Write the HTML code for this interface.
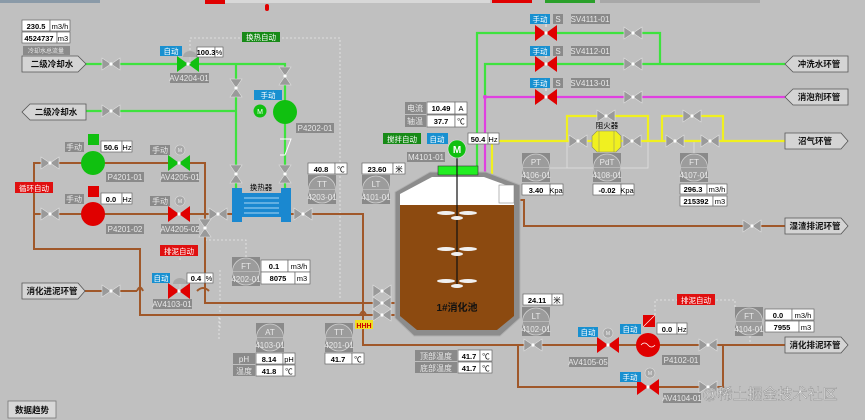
<!DOCTYPE html>
<html><head><meta charset="utf-8"><style>
html,body{margin:0;padding:0;background:#c0c0c0;}
svg{display:block;font-family:"Liberation Sans","Noto Sans CJK SC",sans-serif;}
.t{font-size:7.5px;fill:#000;}
.w{font-size:7.5px;fill:#fff;}
.l{font-size:8px;fill:#e8e8e8;}
</style></head><body>
<svg width="865" height="420" viewBox="0 0 865 420" xmlns="http://www.w3.org/2000/svg">
<defs>
<g id="vh"><polygon points="-9,-6 0,0 -9,6" fill="#9a9a9a" stroke="#e0e0e0" stroke-width="0.6"/><polygon points="9,-6 0,0 9,6" fill="#9a9a9a" stroke="#e0e0e0" stroke-width="0.6"/><circle r="1.6" fill="#fff"/></g>
<g id="vv"><polygon points="-6,-9 0,0 6,-9" fill="#9a9a9a" stroke="#e0e0e0" stroke-width="0.6"/><polygon points="-6,9 0,0 6,9" fill="#9a9a9a" stroke="#e0e0e0" stroke-width="0.6"/><circle r="1.6" fill="#fff"/></g>
<g id="rv"><polygon points="-11,-8 0,0 -11,8" fill="#e00000"/><polygon points="11,-8 0,0 11,8" fill="#e00000"/><circle r="1.6" fill="#fff"/></g>
<g id="gv"><polygon points="-11,-8 0,0 -11,8" fill="#10c010"/><polygon points="11,-8 0,0 11,8" fill="#10c010"/><circle r="1.6" fill="#fff"/></g>
<g id="inst"><rect x="0" y="0" width="28" height="29" fill="#8a8a8a"/><circle cx="14" cy="14.5" r="13.5" fill="#9c9c9c" stroke="#d0d0d0" stroke-width="0.8"/><line x1="1" y1="14.5" x2="27" y2="14.5" stroke="#d0d0d0" stroke-width="0.6"/></g>
</defs>

<!-- top strip -->
<rect x="0" y="0" width="100" height="3" fill="#8a9aa8"/>
<rect x="205" y="0" width="20" height="4" fill="#e00000"/>
<rect x="225" y="0" width="265" height="3" fill="#d8d8d8"/>
<rect x="265" y="4" width="4" height="7" fill="#e00000" rx="2"/>
<rect x="492" y="0" width="40" height="3" fill="#e00000"/>
<rect x="545" y="0" width="50" height="3" fill="#2aa02a"/>
<rect x="600" y="0" width="160" height="3" fill="#a8a8a8"/>

<!-- dashed lines -->
<g stroke="#e8e8e8" stroke-width="0.8" stroke-dasharray="2,2" fill="none">
<polyline points="190,50 190,38 340,38 340,300"/>
<polyline points="180,260 180,250"/>
<polyline points="205,240 246,240 246,258"/>
<polyline points="219,317 219,340"/>
<polyline points="220,270 220,330"/>
<polyline points="655,315 655,300 735,300 735,307"/>
<polyline points="750,336 750,345"/>
</g>
<rect x="567" y="116" width="81" height="52" fill="none" stroke="#e0e0e0" stroke-width="0.8"/>
<line x1="536" y1="168" x2="567" y2="168" stroke="#e0e0e0" stroke-width="0.8"/>
<line x1="694" y1="141" x2="694" y2="153" stroke="#e0e0e0" stroke-width="0.8"/>

<!-- green pipes -->
<g stroke="#3ee23e" stroke-width="2.2" fill="none">
<polyline points="85,64 285,64 285,190"/>
<polyline points="236,64 236,190"/>
<polyline points="86,111 236,111"/>
<polyline points="477,172 477,33 660,33 660,64"/>
<polyline points="485,97 485,64 785,64"/>
</g>
<g stroke="#e040e0" stroke-width="2.2" fill="none">
<polyline points="485,172 485,97 785,97"/>
</g>
<circle cx="485" cy="97" r="2" fill="#e040e0"/>
<g stroke="#f0f020" stroke-width="2.2" fill="none">
<polyline points="492,178 492,141 785,141"/>
<polyline points="567,141 567,116 648,116 648,141"/>
<polyline points="662,141 662,116 723,116 723,141"/>
</g>

<!-- brown pipes -->
<g stroke="#a0582a" stroke-width="2" fill="none">
<polyline points="34,250 34,163 205,163 205,214"/>
<polyline points="34,214 232,214"/>
<polyline points="34,214 34,249 140,249 140,315 396,315"/>
<polyline points="291,214 363,214 363,345 518,345 785,345"/>
<polyline points="518,345 518,387 723,387 723,345"/>
<polyline points="205,214 205,303 396,303"/>
<polyline points="85,291 137,291 M143,291 197,291 M209,291 396,291"/>
<path d="M137,291 q3,-7 6,0 M197,291 q6,-6 12,0 M360,315 q3,-7 6,0"/>
<polyline points="520,200 524,200 524,226 785,226"/>
</g>

<!-- tank -->
<polygon points="395,192 430,172 486,172 520,185 520,318 500,336 414,336 395,318" fill="#8c8c8c" stroke="#b0b0b0"/>
<polygon points="400,194 432,177 484,177 514,188 514,205 400,205" fill="#fff"/>
<polygon points="400,205 514,205 514,316 497,330 417,330 400,316" fill="#8c4a10"/>
<rect x="499" y="185" width="15" height="18" fill="#fff" stroke="#888" stroke-width="0.6"/>
<rect x="438" y="166" width="40" height="9" fill="#22ee22" stroke="#333" stroke-width="0.6"/>
<line x1="457" y1="150" x2="457" y2="285" stroke="#111" stroke-width="1.2"/>
<g fill="#f0f0f0">
<ellipse cx="446" cy="213" rx="9" ry="2"/><ellipse cx="468" cy="213" rx="9" ry="2"/><ellipse cx="457" cy="218" rx="6" ry="2"/>
<ellipse cx="446" cy="249" rx="9" ry="2"/><ellipse cx="468" cy="249" rx="9" ry="2"/><ellipse cx="457" cy="254" rx="6" ry="2"/>
<ellipse cx="446" cy="281" rx="9" ry="2"/><ellipse cx="468" cy="281" rx="9" ry="2"/><ellipse cx="457" cy="286" rx="6" ry="2"/>
</g>
<text x="457" y="311" text-anchor="middle" font-size="10" font-weight="bold" fill="#111">1#消化池</text>
<circle cx="457" cy="149" r="9" fill="#10c010" stroke="#e0e0e0" stroke-width="0.6"/>
<text x="457" y="153" text-anchor="middle" font-size="10" font-weight="bold" fill="#fff">M</text>

<!-- heat exchanger -->
<rect x="232" y="188" width="10" height="34" fill="#1a88d0"/>
<rect x="281" y="188" width="10" height="34" fill="#1a88d0"/>
<rect x="242" y="193" width="39" height="24" fill="#1a88d0"/>
<g stroke="#d8f0ff" stroke-width="0.8"><line x1="244" y1="198" x2="279" y2="198"/><line x1="244" y1="203" x2="279" y2="203"/><line x1="244" y1="208" x2="279" y2="208"/><line x1="244" y1="213" x2="279" y2="213"/></g>
<text x="261" y="190" text-anchor="middle" class="t">换热器</text>

<!-- valves gray -->
<use href="#vh" x="111" y="64"/><use href="#vh" x="111" y="111"/>
<use href="#vv" x="236" y="88"/><use href="#vv" x="285" y="76"/>
<use href="#vv" x="236" y="174"/><use href="#vv" x="285" y="174"/>
<use href="#vh" x="50" y="163"/><use href="#vh" x="50" y="214"/>
<use href="#vh" x="218" y="214"/><use href="#vh" x="303" y="214"/>
<use href="#vv" x="205" y="228"/><use href="#vh" x="111" y="291"/>
<use href="#vh" x="382" y="291"/><use href="#vh" x="382" y="303"/><use href="#vh" x="382" y="315"/>
<use href="#vh" x="633" y="33"/><use href="#vh" x="633" y="64"/><use href="#vh" x="633" y="97"/>
<use href="#vh" x="606" y="116"/><use href="#vh" x="578" y="141"/><use href="#vh" x="632" y="141"/>
<use href="#vh" x="692" y="116"/><use href="#vh" x="675" y="141"/><use href="#vh" x="710" y="141"/>
<use href="#vh" x="752" y="226"/><use href="#vh" x="533" y="345"/><use href="#vh" x="708" y="345"/><use href="#vh" x="708" y="387"/>
<!-- check valve -->
<polyline points="280,139 291,139 285,155 280,155" fill="none" stroke="#fff" stroke-width="1"/>

<!-- colored valves -->
<use href="#gv" x="188" y="64"/><use href="#gv" x="179" y="163"/>
<use href="#rv" x="179" y="214"/><use href="#rv" x="179" y="291"/>
<use href="#rv" x="546" y="33"/><use href="#rv" x="546" y="64"/><use href="#rv" x="546" y="97"/>
<use href="#rv" x="608" y="345"/><use href="#rv" x="648" y="387"/>
<!-- actuator hats -->
<path d="M183,57 a7,6 0 0 1 14,0 z" fill="#a8a8a8"/><line x1="190" y1="57" x2="190" y2="64" stroke="#ccc"/>
<path d="M173,284 a7,6 0 0 1 14,0 z" fill="#a8a8a8"/><line x1="180" y1="284" x2="180" y2="291" stroke="#ccc"/>
<g fill="#a8a8a8" stroke="#ddd" stroke-width="0.6"><circle cx="180" cy="150" r="5"/><circle cx="180" cy="201" r="5"/><circle cx="608" cy="333" r="5"/><circle cx="650" cy="373" r="5"/></g>
<g font-size="5" fill="#eee" text-anchor="middle"><text x="180" y="152">M</text><text x="180" y="203">M</text><text x="608" y="335">M</text><text x="650" y="375">M</text></g>
<g fill="#d8d8d8"><rect x="545" y="23" width="2" height="4"/><rect x="545" y="54" width="2" height="4"/><rect x="545" y="87" width="2" height="4"/></g>

<!-- pumps -->
<circle cx="93" cy="163" r="12" fill="#10c010"/><rect x="88" y="134" width="11" height="11" fill="#10c010"/>
<circle cx="93" cy="214" r="12" fill="#e00000"/><rect x="88" y="186" width="11" height="11" fill="#e00000"/>
<circle cx="285" cy="112" r="12" fill="#10c010"/>
<circle cx="260" cy="111" r="6.5" fill="#10c010"/><text x="260" y="114" font-size="7" text-anchor="middle" fill="#fff">M</text>
<circle cx="648" cy="345" r="12" fill="#e00000"/><path d="M641,345 q3.5,-4 7,0 t7,0" stroke="#fff" fill="none" stroke-width="0.8"/>
<rect x="643" y="315" width="12" height="12" fill="#e00000"/><line x1="643" y1="327" x2="655" y2="315" stroke="#fff" stroke-width="0.6"/>
<!-- flame arrester -->
<polygon points="597,131 616,131 621,136 621,147 616,152 597,152 592,147 592,136" fill="#f0f020" stroke="#886" stroke-width="0.6"/>
<line x1="599" y1="131" x2="599" y2="152" stroke="#886" stroke-width="0.5"/><line x1="614" y1="131" x2="614" y2="152" stroke="#886" stroke-width="0.5"/>
<text x="607" y="128" text-anchor="middle" class="t">阻火器</text>

<!-- instruments -->
<use href="#inst" x="308" y="175"/><use href="#inst" x="362" y="175"/>
<use href="#inst" x="232" y="257"/><use href="#inst" x="256" y="323"/><use href="#inst" x="325" y="323"/>
<use href="#inst" x="522" y="153"/><use href="#inst" x="593" y="153"/><use href="#inst" x="680" y="153"/>
<use href="#inst" x="522" y="307"/><use href="#inst" x="735" y="307"/>
<g class="l" text-anchor="middle">
<text x="322" y="187">TT</text><text x="322" y="200">4203-01</text>
<text x="376" y="187">LT</text><text x="376" y="200">4101-01</text>
<text x="246" y="269">FT</text><text x="246" y="282">4202-01</text>
<text x="270" y="335">AT</text><text x="270" y="348">4103-01</text>
<text x="339" y="335">TT</text><text x="339" y="348">4201-01</text>
<text x="536" y="165">PT</text><text x="536" y="178">4106-01</text>
<text x="607" y="165">PdT</text><text x="607" y="178">4108-01</text>
<text x="694" y="165">FT</text><text x="694" y="178">4107-01</text>
<text x="536" y="319">LT</text><text x="536" y="332">4102-01</text>
<text x="749" y="319">FT</text><text x="749" y="332">4104-01</text>
</g>

<!-- value boxes -->
<g fill="#fff" stroke="#666" stroke-width="0.7">
<rect x="22" y="20" width="28" height="11"/><rect x="50" y="20" width="20" height="11"/>
<rect x="22" y="32" width="35" height="11"/><rect x="57" y="32" width="13" height="11"/>
<rect x="197" y="47" width="18" height="10"/><rect x="215" y="47" width="8" height="10"/>
<rect x="101" y="141" width="21" height="11"/><rect x="122" y="141" width="10" height="11"/>
<rect x="101" y="193" width="21" height="11"/><rect x="122" y="193" width="10" height="11"/>
<rect x="187" y="273" width="18" height="10"/><rect x="205" y="273" width="8" height="10"/>
<rect x="261" y="260" width="27" height="12"/><rect x="288" y="260" width="22" height="12"/>
<rect x="261" y="272" width="34" height="12"/><rect x="295" y="272" width="15" height="12"/>
<rect x="308" y="163" width="27" height="11"/><rect x="335" y="163" width="12" height="11"/>
<rect x="362" y="163" width="31" height="11"/><rect x="393" y="163" width="12" height="11"/>
<rect x="256" y="353" width="27" height="11"/><rect x="283" y="353" width="12" height="11"/>
<rect x="256" y="365" width="27" height="11"/><rect x="283" y="365" width="12" height="11"/>
<rect x="325" y="353" width="27" height="11"/><rect x="352" y="353" width="12" height="11"/>
<rect x="427" y="102" width="28" height="12"/><rect x="455" y="102" width="12" height="12"/>
<rect x="427" y="115" width="28" height="12"/><rect x="455" y="115" width="12" height="12"/>
<rect x="468" y="133" width="20" height="11"/><rect x="488" y="133" width="11" height="11"/>
<rect x="458" y="350" width="22" height="11"/><rect x="480" y="350" width="12" height="11"/>
<rect x="458" y="362" width="22" height="11"/><rect x="480" y="362" width="12" height="11"/>
<rect x="522" y="184" width="28" height="11"/><rect x="550" y="184" width="13" height="11"/>
<rect x="593" y="184" width="28" height="11"/><rect x="621" y="184" width="13" height="11"/>
<rect x="680" y="184" width="27" height="10"/><rect x="707" y="184" width="20" height="10"/>
<rect x="680" y="196" width="33" height="10"/><rect x="713" y="196" width="14" height="10"/>
<rect x="523" y="294" width="29" height="11"/><rect x="552" y="294" width="11" height="11"/>
<rect x="657" y="323" width="20" height="11"/><rect x="677" y="323" width="10" height="11"/>
<rect x="765" y="309" width="27" height="11"/><rect x="792" y="309" width="22" height="11"/>
<rect x="765" y="321" width="34" height="11"/><rect x="799" y="321" width="15" height="11"/>
</g>
<g class="t" font-weight="bold" text-anchor="middle">
<text x="36" y="29">230.5</text><text x="39" y="41">4524737</text><text x="206" y="55">100.3</text>
<text x="111" y="150">50.6</text><text x="111" y="202">0.0</text><text x="196" y="281">0.4</text>
<text x="274" y="269">0.1</text><text x="278" y="281">8075</text>
<text x="321" y="172">40.8</text><text x="377" y="172">23.60</text>
<text x="269" y="362">8.14</text><text x="269" y="374">41.8</text><text x="338" y="362">41.7</text>
<text x="441" y="111">10.49</text><text x="441" y="124">37.7</text><text x="478" y="142">50.4</text>
<text x="469" y="359">41.7</text><text x="469" y="371">41.7</text>
<text x="536" y="193">3.40</text><text x="607" y="193">-0.02</text>
<text x="693" y="192">296.3</text><text x="696" y="204">215392</text>
<text x="537" y="303">24.11</text><text x="667" y="332">0.0</text>
<text x="778" y="318">0.0</text><text x="782" y="330">7955</text>
</g>
<g class="t" text-anchor="middle">
<text x="60" y="29">m3/h</text><text x="63" y="41">m3</text><text x="219" y="55">%</text>
<text x="127" y="150">Hz</text><text x="127" y="202">Hz</text><text x="209" y="281">%</text>
<text x="299" y="269">m3/h</text><text x="302" y="281">m3</text>
<text x="341" y="172">℃</text><text x="399" y="172">米</text>
<text x="289" y="362">pH</text><text x="289" y="374">℃</text><text x="358" y="362">℃</text>
<text x="461" y="111">A</text><text x="461" y="124">℃</text><text x="493" y="142">Hz</text>
<text x="486" y="359">℃</text><text x="486" y="371">℃</text>
<text x="556" y="193">Kpa</text><text x="627" y="193">Kpa</text>
<text x="717" y="192">m3/h</text><text x="720" y="204">m3</text>
<text x="557" y="303">米</text><text x="682" y="332">Hz</text>
<text x="803" y="318">m3/h</text><text x="806" y="330">m3</text>
</g>

<!-- gray labels -->
<g fill="#8a8a8a">
<rect x="23" y="46" width="47" height="9"/>
<rect x="170" y="73" width="39" height="10"/><rect x="296" y="123" width="38" height="10"/>
<rect x="65" y="142" width="19" height="10"/><rect x="150" y="145" width="20" height="10"/>
<rect x="65" y="194" width="19" height="10"/><rect x="150" y="196" width="20" height="10"/>
<rect x="106" y="172" width="38" height="10"/><rect x="161" y="172" width="38" height="10"/>
<rect x="106" y="224" width="38" height="10"/><rect x="161" y="224" width="38" height="10"/>
<rect x="153" y="299" width="39" height="10"/>
<rect x="233" y="353" width="22" height="11"/><rect x="233" y="365" width="22" height="11"/>
<rect x="405" y="102" width="21" height="12"/><rect x="405" y="115" width="21" height="12"/>
<rect x="407" y="152" width="38" height="10"/>
<rect x="415" y="350" width="42" height="11"/><rect x="415" y="362" width="42" height="11"/>
<rect x="553" y="14" width="10" height="10"/><rect x="571" y="14" width="39" height="10"/>
<rect x="553" y="46" width="10" height="10"/><rect x="571" y="46" width="39" height="10"/>
<rect x="553" y="78" width="10" height="10"/><rect x="571" y="78" width="39" height="10"/>
<rect x="569" y="357" width="39" height="10"/><rect x="662" y="355" width="38" height="10"/><rect x="663" y="393" width="38" height="10"/>
</g>
<g class="l" text-anchor="middle">
<text x="46" y="53" font-size="6">冷却水总流量</text>
<text x="189" y="81">AV4204-01</text><text x="315" y="131">P4202-01</text>
<text x="74" y="150">手动</text><text x="160" y="153">手动</text>
<text x="74" y="202">手动</text><text x="160" y="204">手动</text>
<text x="125" y="180">P4201-01</text><text x="180" y="180">AV4205-01</text>
<text x="125" y="232">P4201-02</text><text x="180" y="232">AV4205-02</text>
<text x="172" y="307">AV4103-01</text>
<text x="244" y="362">pH</text><text x="244" y="374">温度</text>
<text x="415" y="111">电流</text><text x="415" y="124">轴温</text>
<text x="426" y="160">M4101-01</text>
<text x="436" y="359">顶部温度</text><text x="436" y="371">底部温度</text>
<text x="558" y="22">S</text><text x="590" y="22">SV4111-01</text>
<text x="558" y="54">S</text><text x="590" y="54">SV4112-01</text>
<text x="558" y="86">S</text><text x="590" y="86">SV4113-01</text>
<text x="588" y="365">AV4105-05</text><text x="681" y="363">P4102-01</text><text x="682" y="401">AV4104-01</text>
</g>

<!-- blue / green / red tags -->
<g fill="#1890d0">
<rect x="160" y="46" width="22" height="10"/><rect x="254" y="90" width="28" height="10"/>
<rect x="152" y="273" width="18" height="10"/><rect x="427" y="133" width="21" height="11"/>
<rect x="530" y="14" width="20" height="10"/><rect x="530" y="46" width="20" height="10"/><rect x="530" y="78" width="20" height="10"/>
<rect x="578" y="327" width="20" height="10"/><rect x="620" y="324" width="21" height="10"/><rect x="620" y="372" width="21" height="10"/>
</g>
<g fill="#178a17"><rect x="242" y="32" width="38" height="10"/><rect x="383" y="133" width="38" height="11"/></g>
<g fill="#e01010"><rect x="15" y="182" width="38" height="11"/><rect x="160" y="245" width="38" height="11"/><rect x="677" y="294" width="38" height="11"/></g>
<rect x="355" y="320" width="18" height="9" fill="#f0e020"/>
<g class="w" text-anchor="middle">
<text x="171" y="54">自动</text><text x="268" y="98">手动</text><text x="161" y="281">自动</text><text x="437" y="142">自动</text>
<text x="540" y="22">手动</text><text x="540" y="54">手动</text><text x="540" y="86">手动</text>
<text x="588" y="335">自动</text><text x="630" y="332">自动</text><text x="630" y="380">手动</text>
<text x="261" y="40">换热自动</text><text x="402" y="142">搅拌自动</text>
<text x="34" y="191">循环自动</text><text x="179" y="254">排泥自动</text><text x="696" y="303">排泥自动</text>
</g>
<text x="364" y="328" text-anchor="middle" font-size="7" fill="#c00" font-weight="bold">HHH</text>

<!-- pipe arrows -->
<g fill="#d4d4d4" stroke="#555" stroke-width="0.8">
<polygon points="22,56 78,56 86,64 78,72 22,72"/>
<polygon points="30,104 86,104 86,120 30,120 22,112"/>
<polygon points="22,283 78,283 85,291 78,299 22,299"/>
<polygon points="793,56 848,56 848,72 793,72 785,64"/>
<polygon points="793,89 848,89 848,105 793,105 785,97"/>
<polygon points="785,133 841,133 848,141 841,149 785,149"/>
<polygon points="785,218 841,218 848,226 841,234 785,234"/>
<polygon points="785,337 841,337 848,345 841,353 785,353"/>
</g>
<g font-size="8.5" font-weight="bold" fill="#111" text-anchor="middle">
<text x="52" y="67">二级冷却水</text><text x="56" y="115">二级冷却水</text><text x="52" y="294">消化进泥环管</text>
<text x="819" y="67">冲洗水环管</text><text x="819" y="100">消泡剂环管</text><text x="815" y="144">沼气环管</text>
<text x="815" y="229">湿渣排泥环管</text><text x="815" y="348">消化排泥环管</text>
</g>

<!-- button -->
<rect x="8" y="401" width="48" height="17" fill="#d8d8d8" stroke="#777" stroke-width="0.8"/>
<text x="32" y="413" text-anchor="middle" font-size="8.5" font-weight="bold" fill="#111">数据趋势</text>
<!-- watermark -->
<text x="770" y="399" text-anchor="middle" font-size="15" fill="#e8e8e8" stroke="#888" stroke-width="0.4">@稀土掘金技术社区</text>
</svg>
</body></html>
